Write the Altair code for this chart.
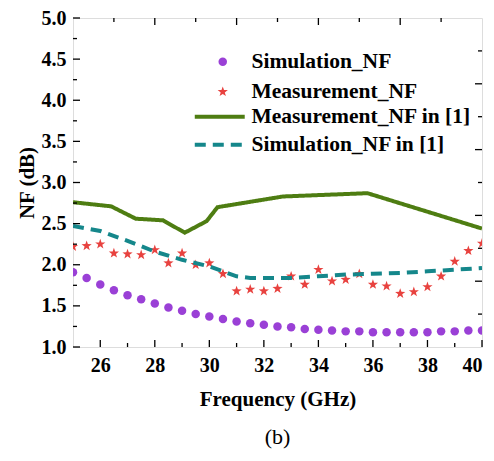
import altair as alt
import pandas as pd

# ---------------- data ----------------
freq = [25.0, 25.5, 26.0, 26.5, 27.0, 27.5, 28.0, 28.5, 29.0, 29.5, 30.0,
        30.5, 31.0, 31.5, 32.0, 32.5, 33.0, 33.5, 34.0, 34.5, 35.0, 35.5,
        36.0, 36.5, 37.0, 37.5, 38.0, 38.5, 39.0, 39.5, 40.0]
sim_nf = [1.91, 1.84, 1.76, 1.69, 1.63, 1.58, 1.53, 1.48, 1.44, 1.40, 1.37,
          1.34, 1.31, 1.29, 1.27, 1.25, 1.24, 1.22, 1.21, 1.20, 1.19, 1.19,
          1.18, 1.18, 1.18, 1.18, 1.18, 1.19, 1.19, 1.20, 1.20]
meas_nf = [2.22, 2.23, 2.25, 2.14, 2.13, 2.12, 2.18, 2.02, 2.14, 2.00, 2.02,
           1.89, 1.68, 1.70, 1.68, 1.71, 1.86, 1.76, 1.94, 1.80, 1.82, 1.89,
           1.76, 1.74, 1.65, 1.67, 1.73, 1.86, 2.04, 2.17, 2.26]

ref_meas_freq = [25.0, 26.4, 27.3, 28.3, 29.1, 29.9, 30.3, 32.7, 35.8, 40.0]
ref_meas_nf = [2.76, 2.71, 2.56, 2.54, 2.39, 2.53, 2.70, 2.83, 2.87, 2.44]

ref_sim_freq = [25.0, 26.0, 27.0, 28.0, 29.0, 30.0, 30.5, 31.0, 31.5, 32.0,
                33.0, 34.0, 35.0, 36.0, 37.0, 38.0, 39.0, 40.0]
ref_sim_nf = [2.47, 2.41, 2.29, 2.16, 2.06, 1.98, 1.92, 1.86, 1.84, 1.84,
              1.84, 1.86, 1.88, 1.89, 1.90, 1.92, 1.94, 1.96]

point_series = ["Simulation_NF", "Measurement_NF"]
line_series = ["Measurement_NF in [1]", "Simulation_NF in [1]"]

x_major = [26, 28, 30, 32, 34, 36, 38, 40]
x_minor = [27, 29, 31, 33, 35, 37, 39]
top_major = [28, 31, 34, 37]
top_minor = [26.5, 29.5, 32.5, 35.5, 38.5]
y_major = [1.0, 1.5, 2.0, 2.5, 3.0, 3.5, 4.0, 4.5, 5.0]
y_minor = [1.25, 1.75, 2.25, 2.75, 3.25, 3.75, 4.25, 4.75]
right_major = [1.8, 2.6, 3.4, 4.2]
right_minor = [1.4, 2.2, 3.0, 3.8, 4.6]

# ---------------- tables ----------------
df_pts = pd.DataFrame({
    "freq": freq + freq,
    "nf": sim_nf + meas_nf,
    "series": [point_series[0]] * len(freq) + [point_series[1]] * len(freq),
})
df_lines = pd.DataFrame({
    "freq": ref_meas_freq + ref_sim_freq,
    "nf": ref_meas_nf + ref_sim_nf,
    "line": [line_series[0]] * len(ref_meas_freq) + [line_series[1]] * len(ref_sim_freq),
})

W, H = 409, 329
FONT = "Times New Roman, Liberation Serif, serif"
xs = alt.Scale(domain=[25, 40], nice=False, zero=False)
ys = alt.Scale(domain=[1, 5], nice=False, zero=False)

PURPLE = "#9a40d6"
RED = "#e8423f"
GREEN = "#4e7d12"
TEAL = "#15878b"
STAR = ("M0,-1L0.235,-0.324L0.951,-0.309L0.38,0.124L0.588,0.809L0,0.4"
        "L-0.588,0.809L-0.38,0.124L-0.951,-0.309L-0.235,-0.324Z")
WIDE_STROKE = "M-4,0H4"

leg1 = alt.Legend(orient="none", legendX=139, legendY=33, title=None,
                  labelFont=FONT, labelFontSize=21.5, labelFontWeight="bold",
                  labelColor="black", labelLimit=400, symbolSize=80,
                  rowPadding=7, labelOffset=18, padding=0)
leg2 = alt.Legend(orient="none", legendX=136, legendY=88, title=None,
                  labelFont=FONT, labelFontSize=21.5, labelFontWeight="bold",
                  labelColor="black", labelLimit=400, symbolType=WIDE_STROKE,
                  symbolSize=156, symbolStrokeWidth=4, rowPadding=5,
                  labelOffset=21, padding=0)

xaxis = alt.Axis(values=x_major, format=".0f", ticks=False, domain=False,
                 grid=False, labelFont=FONT, labelFontSize=20, labelFontWeight="bold",
                 labelColor="black", labelPadding=8, title="Frequency (GHz)",
                 titleFont=FONT, titleFontSize=21, titleFontWeight="bold",
                 titleColor="black", titlePadding=13)
yaxis = alt.Axis(values=y_major, format=".1f", ticks=False, domain=False,
                 grid=False, labelFont=FONT, labelFontSize=20, labelFontWeight="bold",
                 labelColor="black", labelPadding=7, title="NF (dB)",
                 titleFont=FONT, titleFontSize=21, titleFontWeight="bold",
                 titleColor="black", titlePadding=4)

points = alt.Chart(df_pts).mark_point(filled=True, opacity=1, clip=True).encode(
    x=alt.X("freq:Q", scale=xs, axis=xaxis),
    y=alt.Y("nf:Q", scale=ys, axis=yaxis),
    color=alt.Color("series:N", scale=alt.Scale(domain=point_series, range=[PURPLE, RED]), legend=leg1),
    shape=alt.Shape("series:N", scale=alt.Scale(domain=point_series, range=["circle", STAR]), legend=leg1),
    size=alt.Size("series:N", scale=alt.Scale(domain=point_series, range=[72, 115]), legend=None),
)

lines = alt.Chart(df_lines).mark_line(strokeWidth=4, clip=True).encode(
    x=alt.X("freq:Q", scale=xs),
    y=alt.Y("nf:Q", scale=ys),
    stroke=alt.Stroke("line:N", scale=alt.Scale(domain=line_series, range=[GREEN, TEAL]), legend=leg2),
    strokeDash=alt.StrokeDash("line:N", scale=alt.Scale(domain=line_series, range=[[1, 0], [11, 7]]), legend=leg2),
)


def xticks(values, y_from, y_to):
    return alt.Chart(pd.DataFrame({"v": values})).mark_rule(
        color="black", strokeWidth=1.3).encode(
        x=alt.X("v:Q", scale=xs), y=alt.value(y_from), y2=alt.value(y_to))


def yticks(values, x_from, x_to):
    return alt.Chart(pd.DataFrame({"v": values})).mark_rule(
        color="black", strokeWidth=1.3).encode(
        y=alt.Y("v:Q", scale=ys), x=alt.value(x_from), x2=alt.value(x_to))


ticks = [
    xticks(x_major, H, H - 7), xticks(x_minor, H, H - 4),
    xticks(top_major, 0, 7), xticks(top_minor, 0, 4),
    yticks(y_major, 0, 7), yticks(y_minor, 0, 4),
    yticks(right_major, W, W - 7), yticks(right_minor, W, W - 4),
]

chart = alt.layer(points, lines, *ticks).properties(
    width=W, height=H,
    autosize=alt.AutoSizeParams(type="none"),
    padding={"left": 65, "top": 10, "right": 4, "bottom": 106},
    title=alt.TitleParams("(b)", orient="bottom", anchor="middle",
                          font=FONT, fontSize=22, fontWeight="normal",
                          color="black", offset=18),
).configure_view(stroke="black", strokeWidth=1.5).configure(background="white")

chart.save("out.html", embed_options={"renderer": "svg", "actions": False})
